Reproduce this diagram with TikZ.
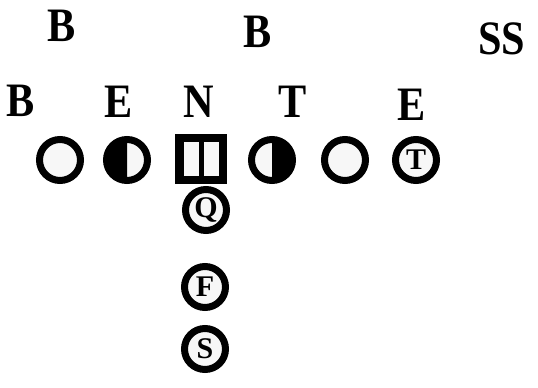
\documentclass[tikz,border=0pt]{standalone}
\usepackage{fontspec}
\setmainfont{Liberation Serif}
\begin{document}
\begin{tikzpicture}[x=1pt,y=1pt,
  lbl/.style={font=\fontsize{48}{48}\selectfont\bfseries, inner sep=0pt, anchor=center, xscale=0.88},
  player/.style={circle, draw=black, line width=7pt, minimum size=41pt, inner sep=0pt, fill=gray!6,
     font=\fontsize{30}{30}\selectfont\bfseries},
  slot/.style={fill=gray!6}
]
\useasboundingbox (0,0) rectangle (538,388);
% defensive labels
\node[lbl] (b1) at (62,362) {B};
\node[lbl] (b2) at (258,356) {B};
\node[lbl] (ss) at (502,349) {SS};
\node[lbl] (b3) at (21,287) {B};
\node[lbl] (e1) at (119,286) {E};
\node[lbl] (n) at (199,286) {N};
\node[lbl] (t) at (293,286) {T};
\node[lbl] (e2) at (412,283) {E};
% offensive line
\node[player] (p1) at (60,228) {};
\node[player] (p2) at (127,228) {};
\fill[black] (p2.center) ++(0,20.5pt) arc[start angle=90, end angle=270, radius=20.5pt] -- cycle;
\node[rectangle, fill=black, minimum width=52pt, minimum height=50pt, inner sep=0pt] (c) at (201,229) {};
\fill[slot] (183.5,212) rectangle (198.5,246);
\fill[slot] (203.5,212) rectangle (218.5,246);
\node[player] (p4) at (272,228) {};
\fill[black] (p4.center) ++(0,20.5pt) arc[start angle=90, end angle=-90, radius=20.5pt] -- cycle;
\node[player] (p5) at (345,228) {};
\node[player] (p6) at (416,228) {T};
% backfield
\node[player] (q) at (206,178) {Q};
\node[player] (f) at (205,101) {F};
\node[player] (s) at (205,39) {S};
\end{tikzpicture}
\end{document}
